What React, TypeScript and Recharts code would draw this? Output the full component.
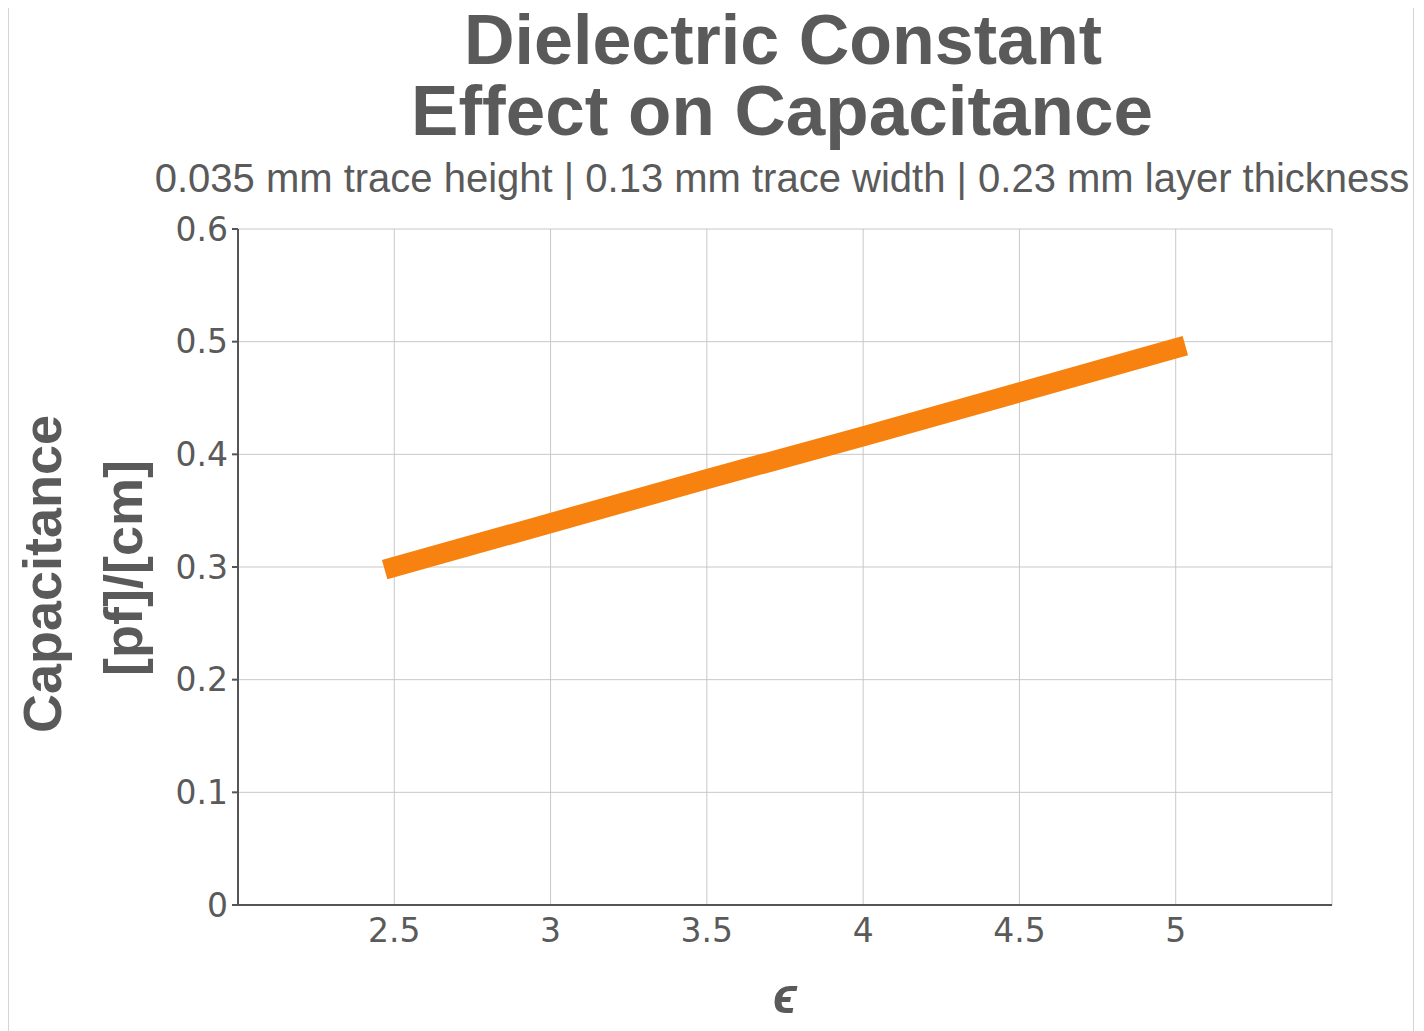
import { LineChart, Line, XAxis, YAxis, CartesianGrid } from "recharts";

const permittivity = [2.5, 3, 3.5, 4, 4.5, 5];
const capacitance = [0.3, 0.339, 0.378, 0.416, 0.455, 0.494];
const xTicks = [2.5, 3, 3.5, 4, 4.5, 5];
const yTicks = [0, 0.1, 0.2, 0.3, 0.4, 0.5, 0.6];

const data = permittivity.map((e, i) => ({ e, c: capacitance[i] }));

const grey = "#5a5a5a";
const tickStyle = { fontFamily: "DejaVu Sans", fontSize: 33, fill: grey };

export default function App() {
  return (
    <div style={{ position: "relative", width: 1406, height: 1023 }}>
      <LineChart
        width={1406}
        height={1023}
        data={data}
        margin={{ top: 221, right: 82, bottom: 66, left: 150 }}
      >
        <CartesianGrid stroke="#c8c8c8" />
        <XAxis
          dataKey="e"
          type="number"
          domain={[2, 5.5]}
          ticks={xTicks}
          height={60}
          tick={tickStyle}
          tickLine={false}
          tickSize={0}
          tickMargin={14}
          stroke="#555"
          strokeWidth={2}
        />
        <YAxis
          type="number"
          domain={[0, 0.6]}
          ticks={yTicks}
          width={80}
          tick={tickStyle}
          tickSize={6}
          tickMargin={4}
          stroke="#555"
          strokeWidth={2}
        />
        <Line
          dataKey="c"
          type="linear"
          stroke="#f7820f"
          strokeWidth={20}
          strokeLinecap="square"
          dot={false}
          isAnimationActive={false}
        />
      </LineChart>
      {/* titles and axis labels, drawn over the chart; starts at the page top */}
      <svg
        width={1406}
        height={1031}
        style={{ position: "absolute", left: 0, top: -8, pointerEvents: "none" }}
      >
        <g fill={grey} fontFamily="Liberation Sans, Arial, sans-serif" textAnchor="middle">
          <text x={775} y={64} fontSize={70} fontWeight="bold">
            Dielectric Constant
          </text>
          <text x={774} y={135} fontSize={71} fontWeight="bold">
            Effect on Capacitance
          </text>
          <text x={774} y={192} fontSize={40}>
            0.035 mm trace height | 0.13 mm trace width | 0.23 mm layer thickness
          </text>
          <text x={53} y={574} fontSize={54} fontWeight="bold" transform="rotate(-90, 53, 574)">
            Capacitance
          </text>
          <text x={134} y={568} fontSize={54} fontWeight="bold" transform="rotate(-90, 134, 568)">
            [pf]/[cm]
          </text>
          <text x={777} y={1013} fontSize={50} fontWeight="bold" fontStyle="italic">
            ϵ
          </text>
        </g>
      </svg>
      <div
        style={{
          position: "absolute",
          left: 0,
          top: -1,
          right: 0,
          bottom: 0,
          border: "1px solid #d4d4d4",
          borderBottom: "none",
          pointerEvents: "none",
        }}
      />
    </div>
  );
}
